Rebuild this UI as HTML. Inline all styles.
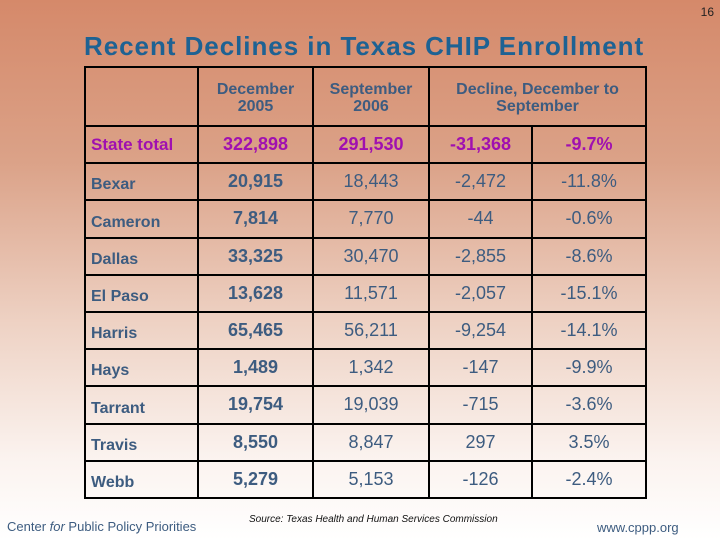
<!DOCTYPE html>
<html><head><meta charset="utf-8"><style>
body{margin:0;width:720px;height:540px;overflow:hidden;font-family:"Liberation Sans",sans-serif;background:linear-gradient(to bottom,#d5896a 0%,#dba288 30%,#eed2c4 60%,#fbf3ef 85%,#ffffff 100%);position:relative}
#pn{position:absolute;right:6px;top:5px;font-size:12px;color:#222}
h1{position:absolute;left:84px;top:31px;margin:0;font-size:26px;letter-spacing:0.95px;font-weight:bold;color:#1e6293;white-space:nowrap}
table{position:absolute;left:84px;top:66px;border-collapse:collapse;width:561px;table-layout:fixed}
tr{height:37.2px}
tr.hr{height:59px}
td{border:2px solid #000;text-align:center;color:#3d5c80;font-size:18px;padding:0;box-sizing:border-box}
td.h{font-weight:bold;font-size:16px;line-height:17px;padding-top:2px}
td.l{text-align:left;font-weight:bold;font-size:16px;padding-left:5px;vertical-align:bottom;padding-bottom:5px}
td.b{font-weight:bold}
tr.st td{color:#a010b0;font-weight:bold;vertical-align:middle;padding-bottom:0}
tr.st td.l{font-size:17px}
.ft{position:absolute;font-size:13px;color:#3d5c80}
</style></head><body>
<div id="pn">16</div>
<h1>Recent Declines in Texas CHIP Enrollment</h1>
<table>
<colgroup><col style="width:113px"><col style="width:115px"><col style="width:116px"><col style="width:103px"><col style="width:114px"></colgroup>
<tr class="hr"><td class="h"></td><td class="h">December<br>2005</td><td class="h">September<br>2006</td><td class="h" colspan="2">Decline, December to<br>September</td></tr>
<tr class="st"><td class="l">State total</td><td>322,898</td><td>291,530</td><td>-31,368</td><td>-9.7%</td></tr>
<tr><td class="l">Bexar</td><td class="b">20,915</td><td>18,443</td><td>-2,472</td><td>-11.8%</td></tr>
<tr><td class="l">Cameron</td><td class="b">7,814</td><td>7,770</td><td>-44</td><td>-0.6%</td></tr>
<tr><td class="l">Dallas</td><td class="b">33,325</td><td>30,470</td><td>-2,855</td><td>-8.6%</td></tr>
<tr><td class="l">El Paso</td><td class="b">13,628</td><td>11,571</td><td>-2,057</td><td>-15.1%</td></tr>
<tr><td class="l">Harris</td><td class="b">65,465</td><td>56,211</td><td>-9,254</td><td>-14.1%</td></tr>
<tr><td class="l">Hays</td><td class="b">1,489</td><td>1,342</td><td>-147</td><td>-9.9%</td></tr>
<tr><td class="l">Tarrant</td><td class="b">19,754</td><td>19,039</td><td>-715</td><td>-3.6%</td></tr>
<tr><td class="l">Travis</td><td class="b">8,550</td><td>8,847</td><td>297</td><td>3.5%</td></tr>
<tr><td class="l">Webb</td><td class="b">5,279</td><td>5,153</td><td>-126</td><td>-2.4%</td></tr>
</table>
<div class="ft" style="left:7px;top:519px">Center <i>for</i> Public Policy Priorities</div>
<div class="ft" style="left:249px;top:514px;font-size:10px;font-style:italic;color:#111">Source: Texas Health and Human Services Commission</div>
<div class="ft" style="left:597px;top:520px">www.cppp.org</div>
</body></html>
